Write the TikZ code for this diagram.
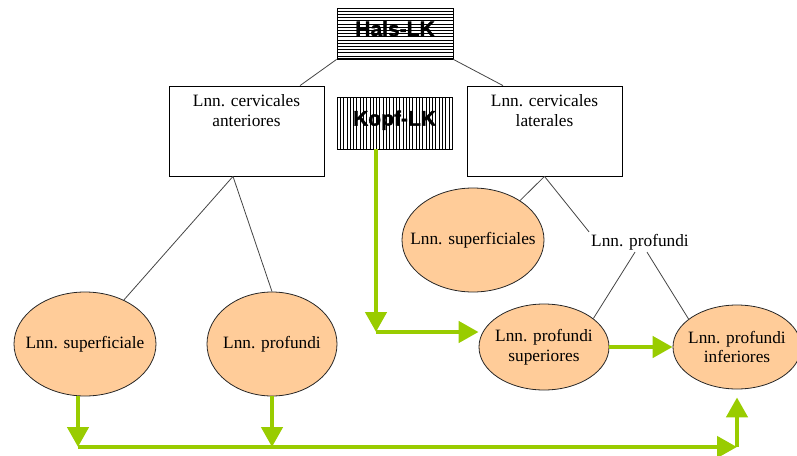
\documentclass[tikz,border=0pt]{standalone}
\usepackage{fontspec}
\setmainfont{Liberation Serif}
\newfontfamily\boxserif{Liberation Serif}
\newfontfamily\labelsans[BoldFeatures={FakeBold=1.5}]{Liberation Sans}
\usetikzlibrary{shapes.geometric,arrows.meta,calc}
\definecolor{peach}{HTML}{FFCC99}
\definecolor{lgreen}{HTML}{99CC00}
\definecolor{linegray}{HTML}{444444}

\begin{document}
\begin{tikzpicture}[x=1pt,y=-1pt,
  txt/.style={font=\boxserif\fontsize{17.3}{19.5}\selectfont, align=center, inner sep=2pt},
  groupbox/.style={draw=black, line width=0.8pt, minimum width=155pt, minimum height=90pt, inner sep=0pt},
  nodeell/.style={ellipse, draw=black!85, line width=0.8pt, fill=peach, inner xsep=-15pt, inner ysep=0pt,
    font=\boxserif\fontsize{17.3}{19.5}\selectfont, align=center},
  link/.style={draw=linegray, line width=0.8pt},
  flow/.style={draw=lgreen, line width=4.5pt, -{Triangle[length=20pt,width=21pt]}},
  titlebox/.style={draw=black, line width=0.8pt, inner sep=0pt, text depth=10pt,
    font=\labelsans\bfseries\fontsize{21}{21}\selectfont},
]
\useasboundingbox (0,0) rectangle (797,455);

% striped title boxes
\node[titlebox, minimum width=116pt, minimum height=51pt,
  path picture={\foreach \k in {0,...,16}
    \draw[line width=0.6pt] ($(path picture bounding box.north west)+(0,\k*3.19)$) -- ++(120,0);}]
  (hals) at (395,33.5) {Hals-LK};
\draw[line width=2pt] (hals.south west) -- (hals.south east);

\node[titlebox, minimum width=115pt, minimum height=52pt,
  path picture={\foreach \k in {0,...,35}
    \draw[line width=0.6pt] ($(path picture bounding box.north west)+(\k*3.29,0)$) -- ++(0,56);}]
  (kopf) at (394.5,123) {Kopf-LK};

% group boxes
\node[groupbox] (ant) at (246.5,131) {};
\node[txt, anchor=north] (antt) at ($(ant.north)+(0,7)$) {Lnn. cervicales\\anteriores};
\node[groupbox] (lat) at (544.5,131) {};
\node[txt, anchor=north] (latt) at ($(lat.north)+(0,7)$) {Lnn. cervicales\\laterales};

% lymph node groups
\node[nodeell, minimum width=142pt, minimum height=104pt] (sup) at (85,344) {Lnn. superficiale};
\node[nodeell, minimum width=130pt, minimum height=104pt] (lprof) at (272,344) {Lnn. profundi};
\node[nodeell, minimum width=142pt, minimum height=104pt] (supr) at (473,240) {Lnn. superficiales};
\node[nodeell, minimum width=130pt, minimum height=86pt] (psup) at (544,347) {Lnn. profundi\\superiores};
\node[nodeell, minimum width=128pt, minimum height=84pt] (pinf) at (737,347) {Lnn. profundi\\inferiores};
\node[txt] (prof) at (640,242) {Lnn. profundi};

% hierarchy lines
\coordinate (antfoot) at ($(ant.south)+(-13.5,0)$);
\draw[link] (hals.south west) -- ($(ant.north)+(53.5,0)$);
\draw[link] (hals.south east) -- ($(lat.north)+(-41.5,0)$);
\draw[link] (antfoot) -- (sup);
\draw[link] (antfoot) -- (lprof.north);
\draw[link] (lat.south) -- (supr.40);
\draw[link] (lat.south) -- (prof.north west);
\draw[link] ($(prof.south)+(-5,0)$) -- (psup.30);
\draw[link] ($(prof.south)+(7,0)$) -- (pinf.150);

% lymph flow
\coordinate (kbend) at (376,332);
\coordinate (baseL) at (78,447);
\coordinate (baseR) at (737,447);
\draw[flow] ($(kopf.south)+(-18.5,0)$) -- (kbend);
\draw[flow] (kbend) -- (kbend -| psup.west);
\draw[flow] (psup.east) -- (pinf.west);
\draw[flow] ($(sup.south)+(-7,0)$) -- (baseL);
\draw[flow] (lprof.south) -- (lprof.south |- baseL);
\draw[flow] (baseL) -- (baseR);
\draw[flow, shorten >=8pt] (baseR) -- (pinf.south);
\end{tikzpicture}
\end{document}
